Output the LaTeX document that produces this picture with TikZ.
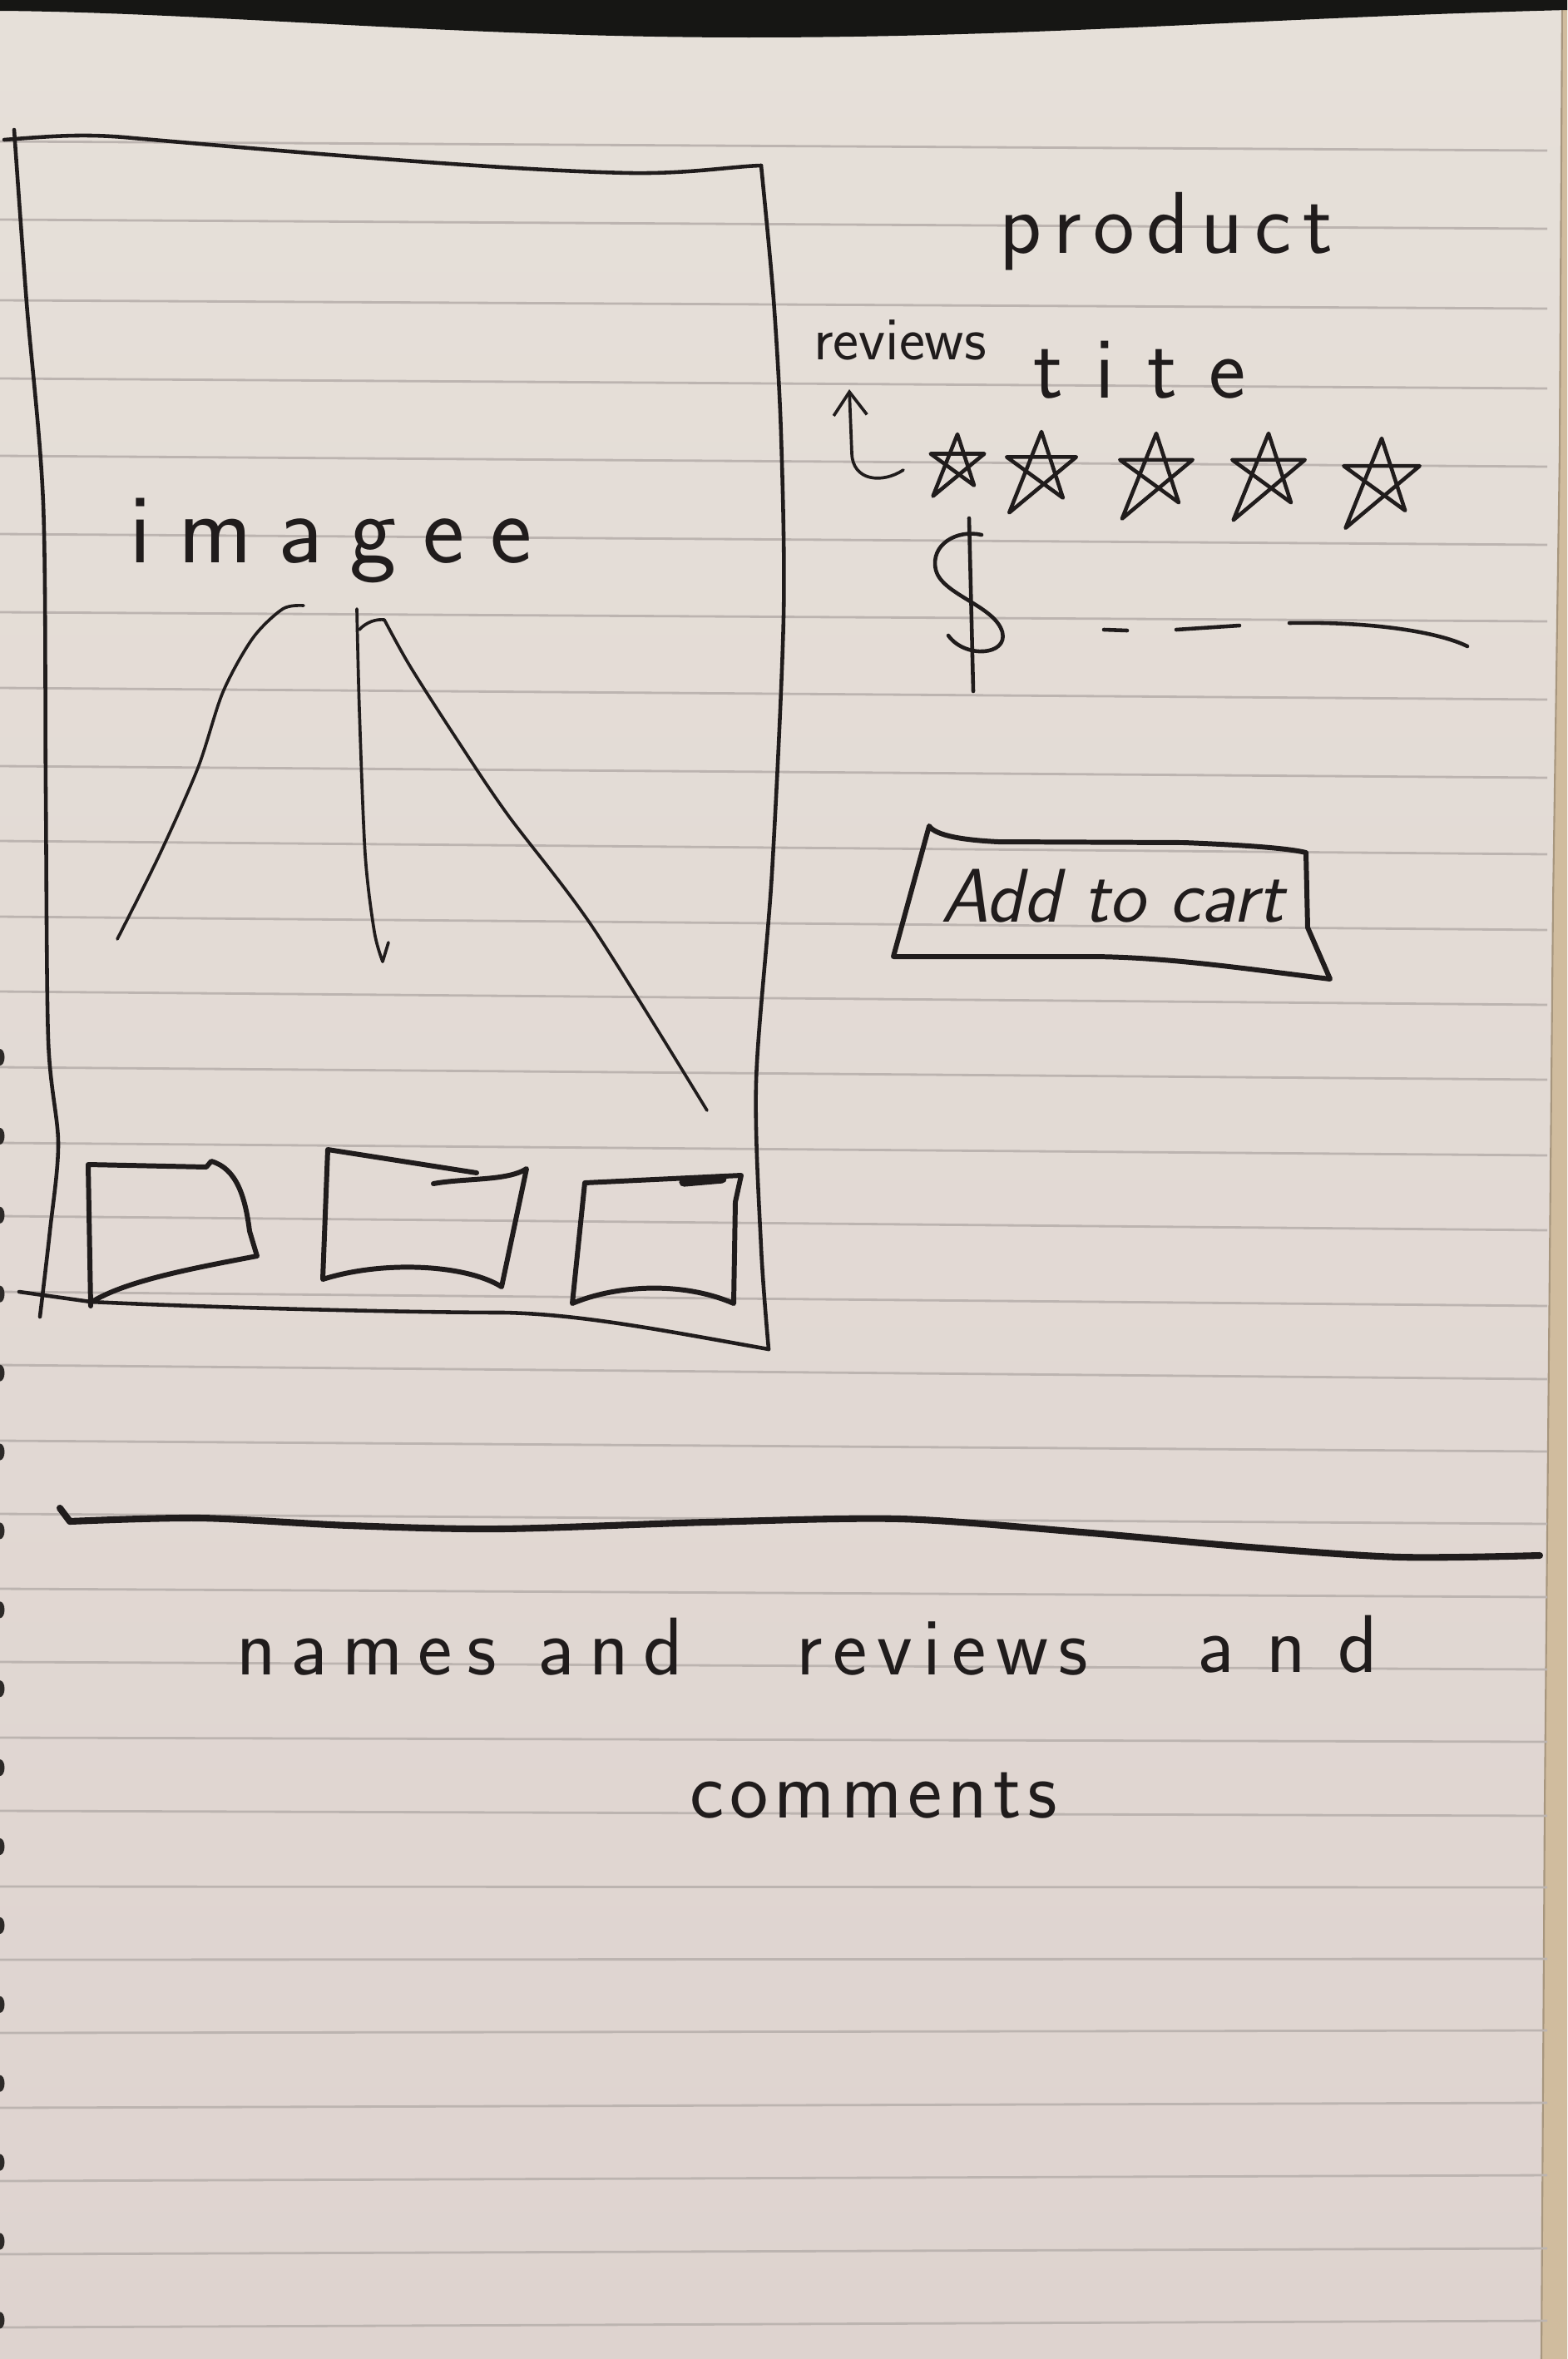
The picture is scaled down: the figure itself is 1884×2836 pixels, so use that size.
\documentclass[tikz,border=0pt]{standalone}
\usepackage{fontspec}
\usetikzlibrary{arrows.meta}
\definecolor{ink}{RGB}{32,28,28}
\definecolor{papertop}{RGB}{230,224,217}
\definecolor{paperbot}{RGB}{222,211,207}
\definecolor{rulec}{RGB}{188,180,176}
\definecolor{band}{RGB}{22,22,20}
\definecolor{pageedge}{RGB}{208,188,158}
\definecolor{hole}{RGB}{45,42,40}
% hand-drawn pentagram: x, y, radius, radius of the lower-left tail
\newcommand\hstar[4]{%
  \draw[inkline,shift={(#1,#2)}] (-90:#3) -- (-234:#4) -- (-18:#3) -- (-162:#3) -- (-306:#3) -- cycle;}
\begin{document}
\begin{tikzpicture}[x=0.01cm,y=-0.01cm,
  inkline/.style={draw=ink,line width=1.3pt,line cap=round,line join=round},
  thinink/.style={draw=ink,line width=1.05pt,line cap=round,line join=round},
  thickink/.style={draw=ink,line width=1.7pt,line cap=round,line join=round},
  boldink/.style={draw=ink,line width=2.3pt,line cap=round,line join=round},
  rule/.style={draw=rulec,line width=0.8pt},
  hand/.style={text=ink,inner sep=0pt,anchor=base}]
\useasboundingbox (0,0) rectangle (1884,2836);

% notebook page
\shade[top color=papertop,bottom color=paperbot] (0,0) rectangle (1884,2836);
\fill[pageedge] (1878,0) -- (1884,0) -- (1884,2836) -- (1853,2836) -- (1857,2170)
  -- (1862,1627) -- (1867,1085) -- (1875,542) -- cycle;
\draw[pageedge!80!black,line width=0.6pt] (1878,0) -- (1875,542) -- (1867,1085)
  -- (1862,1627) -- (1857,2170) -- (1853,2836);
\foreach \a/\b in {170/181,264/275,361/371,455/467,548/561,642/655,736/747,827/841,
  921/935,1011/1027,1102/1118,1192/1208,1283/1298,1374/1389,1462/1479,1553/1570,
  1641/1658,1732/1745,1820/1832,1910/1920,1998/2007,2089/2094,2177/2183,2268/2269,
  2356/2355,2444/2441,2534/2528,2622/2615,2710/2703,2798/2790}
  \draw[rule] (0,\a) -- (1860,\b);
\fill[band] (0,0) -- (1884,0) -- (1884,12) .. controls (1500,22) and (1250,45)
  .. (900,45) .. controls (550,45) and (250,15) .. (0,13) -- cycle;
\foreach \i in {0,...,16}
  \fill[hole] (0,{1271+94.9*\i}) ellipse [x radius=0.055cm, y radius=0.1cm];

% product picture frame
\draw[inkline] (5,168) .. controls (60,164) and (100,160) .. (160,166)
  .. controls (300,178) and (600,205) .. (758,208) .. controls (830,209) and (880,200) .. (915,199);
\draw[inkline] plot[smooth] coordinates {(17,156) (32,364) (52,606) (55,950) (58,1250) (70,1374) (60,1480) (48,1583)};
\draw[inkline] plot[smooth] coordinates {(915,199) (930,360) (939,523) (942,741) (928,1050) (909,1300) (915,1500) (924,1622)};
\draw[inkline] (23,1553) -- (109,1565) .. controls (250,1572) and (500,1578)
  .. (606,1578) .. controls (700,1580) and (800,1600) .. (924,1622);

% image placeholder strokes
\node[hand,font={\sffamily\fontsize{34}{40}\selectfont}] (imglabel) at (398,676)
  {i\kern9pt m\kern9pt a\kern9pt g\kern9pt e\kern9pt e};
\draw[thinink] plot[smooth] coordinates {(141,1129) (192,1027) (238,923) (268,832) (304,767) (340,732) (365,728)};
\draw[thinink] plot[smooth] coordinates {(429,732) (432,853) (439,1027) (450,1120) (460,1156)};
\draw[thinink] (460,1156) -- (467,1133);
\draw[thinink] (432,757) .. controls (440,748) and (452,744) .. (462,745);
\draw[thinink] plot[smooth] coordinates {(462,745) (493,801) (550,890) (610,979) (712,1114) (850,1335)};

% thumbnails
\draw[thickink] (109,1570) -- (106,1400) -- (248,1403) -- (254,1396)
  .. controls (285,1405) and (295,1440) .. (300,1480) -- (309,1510)
  .. controls (230,1525) and (150,1540) .. (109,1566);
\draw[thickink] (573,1410) -- (394,1382) -- (388,1538)
  .. controls (460,1515) and (560,1520) .. (603,1547) -- (633,1405)
  .. controls (610,1420) and (560,1416) .. (521,1423);
\draw[thickink] (703,1422) -- (891,1413) -- (884,1445) -- (882,1567)
  .. controls (820,1540) and (740,1545) .. (688,1567) -- cycle;
\draw[ink,line width=3.2pt,line cap=round] (822,1421) -- (868,1417);

% product details
\node[hand,font={\sffamily\fontsize{30}{36}\selectfont}] (title) at (1402,304)
  {p\kern4pt r\kern4pt o\kern4pt d\kern4pt u\kern4pt c\kern4pt t};
\node[hand,font={\sffamily\fontsize{21}{25}\selectfont}] (revlabel) at (1082,432) {reviews};
\node[hand,font={\sffamily\fontsize{30}{36}\selectfont}] (tite) at (1370,478)
  {t\kern11pt i\kern11pt t\kern11pt e};
\coordinate (hookstart) at (1086,565);
\coordinate (hooktip) at (1021,468);
\draw[thinink,-{Straight Barb[length=0.28cm,width=0.4cm]}] (hookstart)
  .. controls (1060,582) and (1025,578) .. (1024,545) -- (hooktip);
\hstar{1151}{556}{34}{50}
\hstar{1252}{563}{44}{66}
\hstar{1390}{567}{46}{70}
\hstar{1525}{567}{46}{72}
\hstar{1661}{575}{48}{74}

% price
\draw[inkline] (1180,643) .. controls (1150,636) and (1118,655) .. (1125,685)
  .. controls (1132,715) and (1196,728) .. (1205,760)
  .. controls (1212,788) and (1160,792) .. (1140,764);
\draw[inkline] (1165,623) -- (1170,831);
\draw[inkline] (1327,757) -- (1355,758);
\draw[inkline] (1414,757) -- (1490,752);
\draw[inkline] (1550,749) .. controls (1650,747) and (1730,760) .. (1764,777);

% add to cart button
\draw[thickink] (1117,993) .. controls (1125,1005) and (1160,1010) .. (1200,1012)
  -- (1423,1013) .. controls (1500,1016) and (1550,1020) .. (1570,1025)
  -- (1572,1115) -- (1599,1177) .. controls (1500,1165) and (1400,1150) .. (1308,1150)
  -- (1074,1150) -- cycle;
\node[hand,font={\sffamily\slshape\fontsize{26}{30}\selectfont}] (cartlabel) at (1337,1108) {Add to cart};

% divider
\draw[boldink] (72,1813) -- (84,1829);
\draw[boldink] plot[smooth] coordinates {(84,1829) (240,1825) (420,1834) (601,1838) (850,1830) (1082,1826) (1300,1842) (1502,1860) (1683,1872) (1851,1870)};

% reviews section
\node[hand,font={\sffamily\fontsize{28}{34}\selectfont}] (txtnames) at (553,2013)
  {n\kern5pt a\kern5pt m\kern5pt e\kern5pt s\kern14pt a\kern5pt n\kern5pt d};
\node[hand,font={\sffamily\fontsize{28}{34}\selectfont}] (txtreviews) at (1133,2013)
  {r\kern3.5pt e\kern3.5pt v\kern3.5pt i\kern3.5pt e\kern3.5pt w\kern3.5pt s};
\node[hand,font={\sffamily\fontsize{28}{34}\selectfont}] (txtand) at (1548,2010)
  {a\kern11pt n\kern11pt d};
\node[hand,font={\sffamily\fontsize{28}{34}\selectfont}] (txtcomments) at (1050,2185)
  {c\kern2pt o\kern2pt m\kern2pt m\kern2pt e\kern2pt n\kern2pt t\kern2pt s};
\end{tikzpicture}
\end{document}
